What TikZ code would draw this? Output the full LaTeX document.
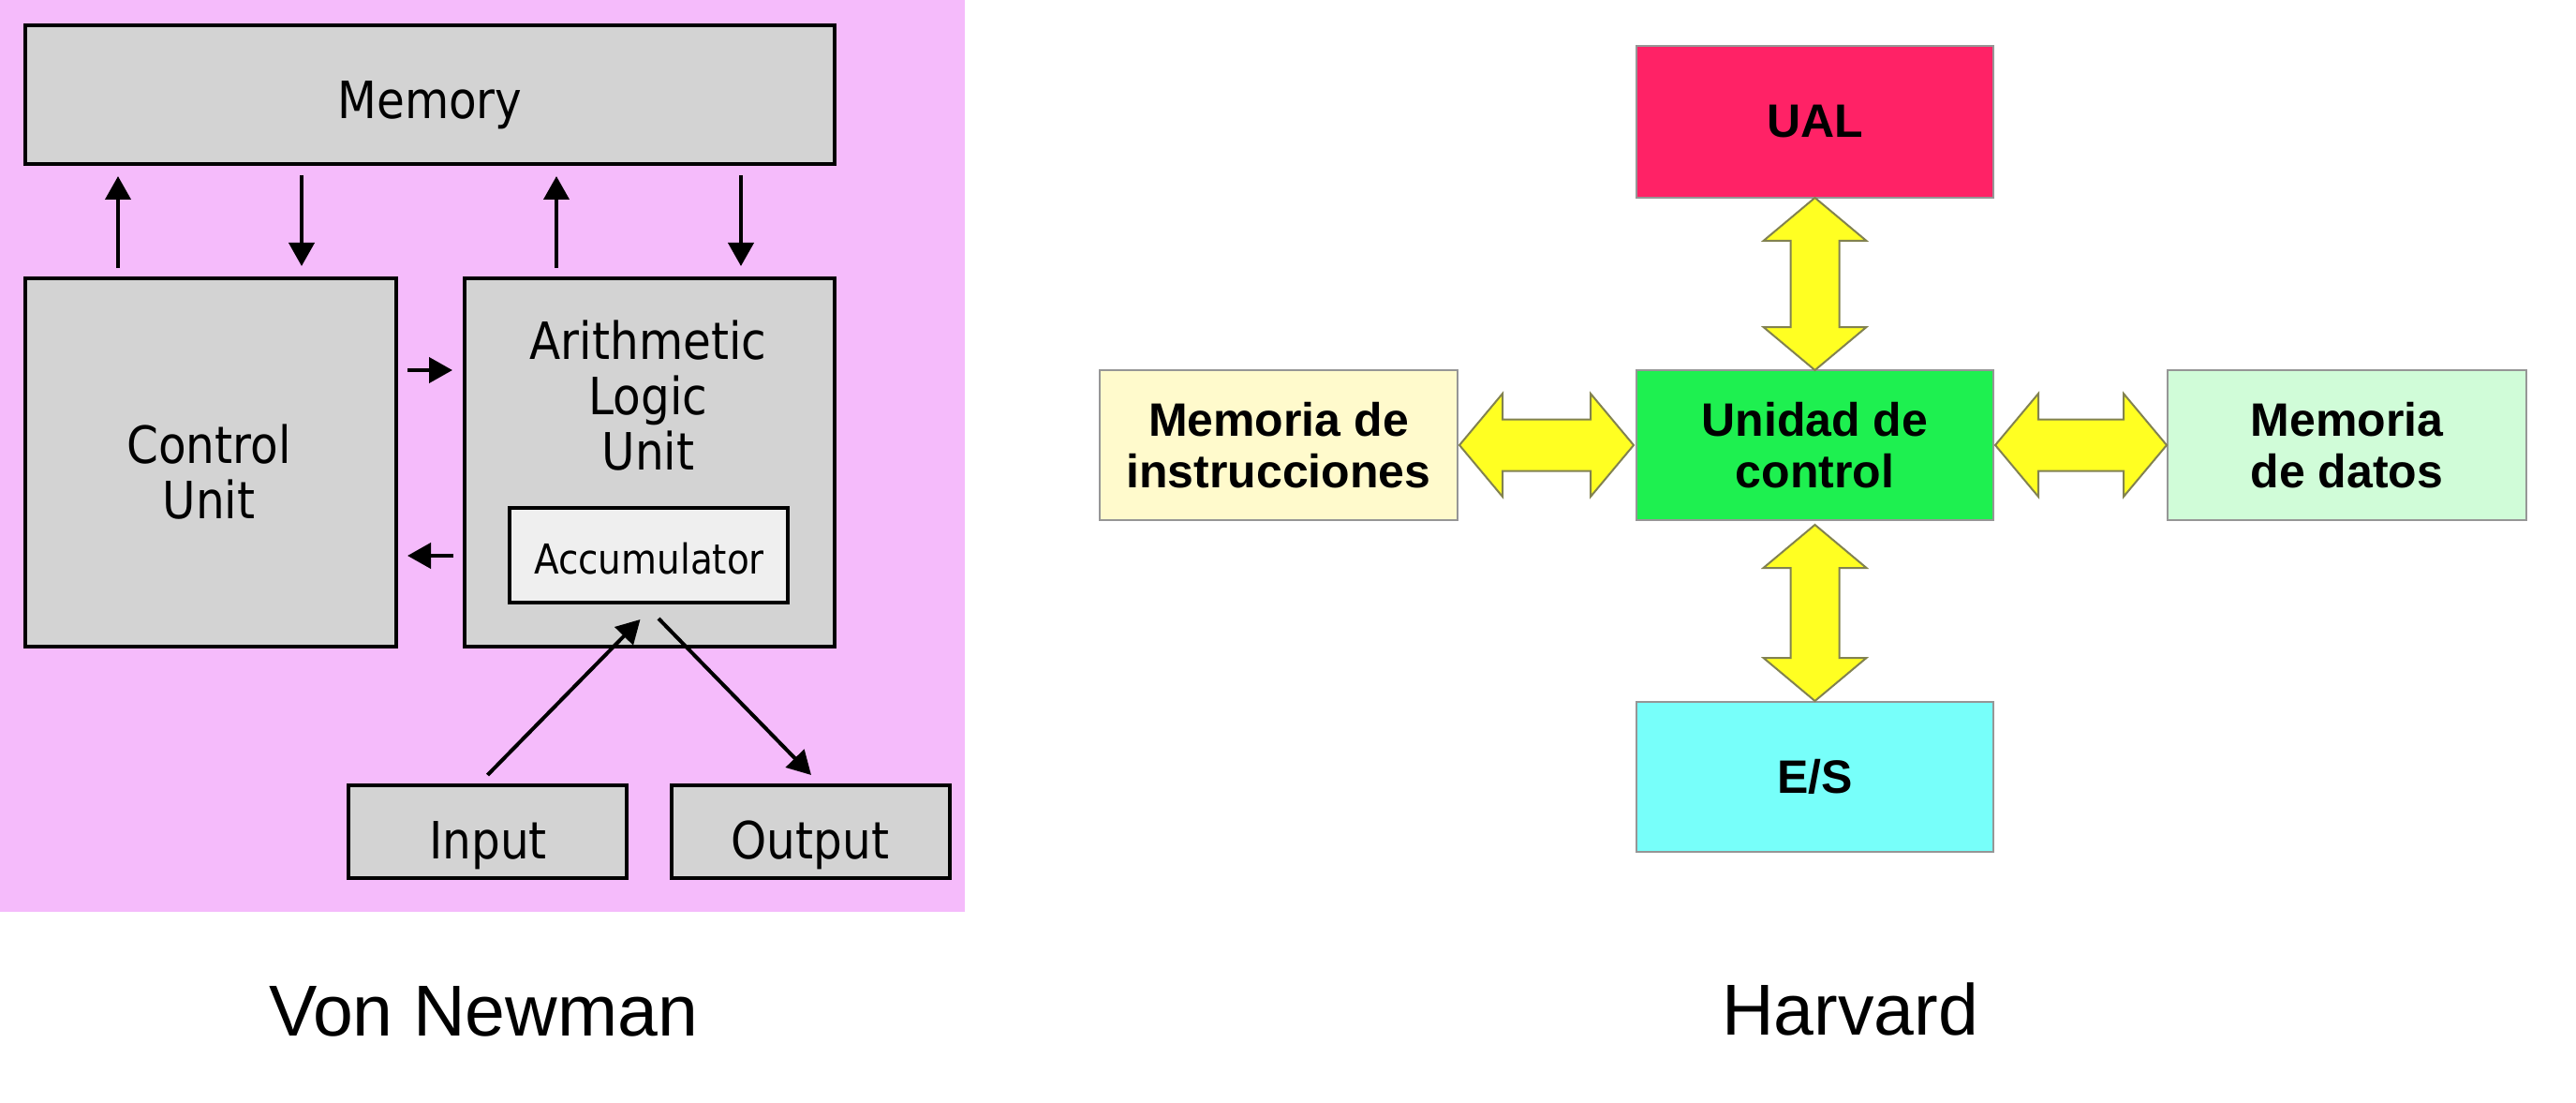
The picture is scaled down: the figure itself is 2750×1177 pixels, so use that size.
\documentclass[tikz,border=0pt]{standalone}
\usepackage{fontspec}
\usetikzlibrary{arrows.meta,calc}
\newfontfamily\vnfont[FakeStretch=0.885]{DejaVu Sans}
\newfontfamily\hvfont{Liberation Sans}
\newfontfamily\capfont{Liberation Sans}
\definecolor{pinkbg}{RGB}{245,187,251}
\definecolor{vngray}{RGB}{211,211,211}
\definecolor{accgray}{RGB}{239,239,239}
\definecolor{ualc}{RGB}{255,34,102}
\definecolor{ucc}{RGB}{30,240,80}
\definecolor{mic}{RGB}{255,250,204}
\definecolor{mdc}{RGB}{208,252,216}
\definecolor{esc}{RGB}{119,255,250}
\definecolor{fatyellow}{RGB}{255,255,34}
\definecolor{fatedge}{RGB}{130,130,80}
\definecolor{hvedge}{RGB}{150,150,150}
\begin{document}
\begin{tikzpicture}[x=0.25pt,y=-0.25pt,
  sz/.style 2 args={minimum width=#1*0.25pt,minimum height=#2*0.25pt},
  vnbox/.style={draw=black,line width=1pt,fill=vngray,inner sep=0pt,outer sep=0pt},
  vntext/.style={font=\vnfont\fontsize{13.7pt}{14.75pt}\selectfont,align=center,text=black,inner sep=0pt},
  acctext/.style={font=\vnfont\fontsize{11pt}{13pt}\selectfont,text=black,inner sep=0pt},
  vnarrow/.style={line width=1pt,-{Triangle[length=6.25pt,width=6.75pt]}},
  hvbox/.style={draw=hvedge,line width=0.5pt,inner sep=0pt,outer sep=0pt,
    font=\hvfont\bfseries\fontsize{12.5pt}{13.75pt}\selectfont,align=center,text=black},
  fat/.style={fill=fatyellow,draw=fatedge,line width=0.5pt,line join=miter},
  captext/.style={font=\capfont\fontsize{19.25pt}{23pt}\selectfont,anchor=base,inner sep=0pt}
]
\useasboundingbox (0,0) rectangle (2750,1177);
% ---------------- Von Neumann ----------------
\fill[pinkbg] (0,0) rectangle (1030,973);
\node[vnbox,sz={864}{148}] (mem) at (459,101) {};
\node[vnbox,sz={396}{393}] (cu) at (225,493.5) {};
\node[vnbox,sz={395}{393}] (alu) at (693.5,493.5) {};
\node[vnbox,fill=accgray,sz={297}{101}] (acc) at (692.5,592.5) {};
\node[vnbox,sz={297}{99}] (in) at (520,887.5) {};
\node[vnbox,sz={297}{99}] (out) at (865.5,887.5) {};

\node[vntext,anchor=base] (memt) at (459,127) {Memory};
\node[vntext] (cut) at (223,503.5) {Control\\Unit};
\node[vntext] (alut) at (692,422) {Arithmetic\\Logic\\Unit};
\node[acctext,anchor=base] (acct) at (693,612) {Accumulator};
\node[vntext,anchor=base] (intx) at (521,916) {Input};
\node[vntext,anchor=base] (outtx) at (865,916) {Output};

\coordinate (xa) at (126,0);
\coordinate (xb) at (322,0);
\coordinate (xc) at (594,0);
\coordinate (xd) at (791,0);
\coordinate (ya) at (0,395);
\coordinate (yb) at (0,593);
\draw[vnarrow,shorten <=2.75pt,shorten >=3.25pt] (cu.north -| xa) -- (mem.south -| xa);
\draw[vnarrow,shorten <=3pt,shorten >=3.25pt] (mem.south -| xb) -- (cu.north -| xb);
\draw[vnarrow,shorten <=2.75pt,shorten >=3.25pt] (alu.north -| xc) -- (mem.south -| xc);
\draw[vnarrow,shorten <=3pt,shorten >=3.25pt] (mem.south -| xd) -- (alu.north -| xd);
\draw[vnarrow,shorten <=3pt,shorten >=3.25pt] (cu.east |- ya) -- (alu.west |- ya);
\draw[vnarrow,shorten <=3pt,shorten >=3pt] (alu.west |- yb) -- (cu.east |- yb);
\draw[vnarrow] ([shift={(0.5,-11)}]in.north) -- ([shift={(-9,18)}]acc.south);
\draw[vnarrow] ([shift={(10.5,17)}]acc.south) -- ([shift={(0.5,-11)}]out.north);

\node[captext] (vncap) at (516,1105) {Von Newman};

% ---------------- Harvard ----------------
\node[hvbox,fill=ualc,sz={381}{162}] (ual) at (1937.5,130) {UAL};
\node[hvbox,fill=ucc,sz={381}{160}] (uc) at (1937.5,475) {Unidad de\\control};
\node[hvbox,fill=mic,sz={382}{160}] (mi) at (1365,475) {Memoria de\\instrucciones};
\node[hvbox,fill=mdc,sz={383}{160}] (md) at (2505.5,475) {Memoria\\de datos};
\node[hvbox,fill=esc,sz={381}{160}] (es) at (1937.5,829) {E/S};

% vertical double arrows
\draw[fat] (ual.south) -- ++(55,46) -- ++(-29,0) -- ++(0,92) -- ++(29,0) -- ++(-55,46)
  -- ++(-55,-46) -- ++(29,0) -- ++(0,-92) -- ++(-29,0) -- cycle;
\draw[fat] ([shift={(0,5)}]uc.south) -- ++(55,46) -- ++(-29,0) -- ++(0,96) -- ++(29,0) -- ++(-55,46)
  -- ++(-55,-46) -- ++(29,0) -- ++(0,-96) -- ++(-29,0) -- cycle;
% horizontal double arrows
\draw[fat] ([shift={(2,0)}]mi.east) -- ++(46,-55) -- ++(0,27.5) -- ++(94,0) -- ++(0,-27.5) -- ++(46,55)
  -- ++(-46,55) -- ++(0,-27.5) -- ++(-94,0) -- ++(0,27.5) -- cycle;
\draw[fat] ([shift={(2,0)}]uc.east) -- ++(46,-55) -- ++(0,27.5) -- ++(91,0) -- ++(0,-27.5) -- ++(46,55)
  -- ++(-46,55) -- ++(0,-27.5) -- ++(-91,0) -- ++(0,27.5) -- cycle;

\node[captext] (hvcap) at (1975,1104) {Harvard};
\end{tikzpicture}
\end{document}
